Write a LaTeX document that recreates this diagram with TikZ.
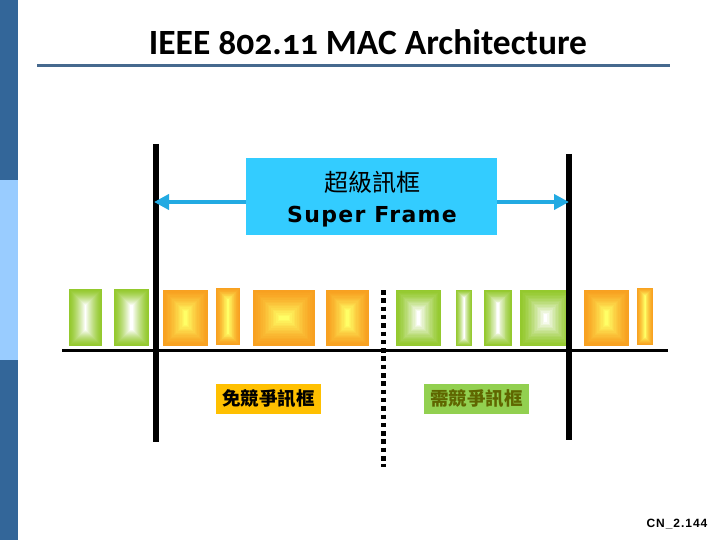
\documentclass[tikz,border=0pt]{standalone}
\usepackage{fontspec}
\usetikzlibrary{arrows.meta}
\setmainfont{Liberation Sans}
\newfontfamily\titlefont[Numbers=OldStyle]{Carlito}
\newfontfamily\cjkfont{Noto Sans CJK TC}
\newfontfamily\verdfont[LetterSpace=6]{DejaVu Sans}
\newfontfamily\cnfont[LetterSpace=8]{Liberation Sans}
\definecolor{bardark}{HTML}{336699}
\definecolor{barlight}{HTML}{99CCFF}
\definecolor{ruleblue}{HTML}{46698E}
\definecolor{sfcyan}{HTML}{33CCFF}
\definecolor{arrowblue}{HTML}{22AAE2}
\definecolor{gedge}{HTML}{94C92E}
\definecolor{gcenter}{HTML}{FFFFFF}
\definecolor{oedge}{HTML}{F8A020}
\definecolor{ocenter}{HTML}{FFFF66}
\definecolor{amber}{HTML}{FFC000}
\definecolor{lgreen}{HTML}{92D050}
\definecolor{olive}{HTML}{5F6600}
\newcommand\shblock[6]{%
  \pgfmathsetmacro\bkw{#3-#1}%
  \pgfmathsetmacro\bkh{#4-#2}%
  \pgfmathsetmacro\bkm{min(\bkw,\bkh)/2}%
  \foreach \bki in {0,...,16}{%
    \pgfmathsetmacro\bkd{\bkm*\bki/17}%
    \pgfmathsetmacro\bkp{100*(\bki/16)^1.4}%
    \fill[#6!\bkp!#5] (#1+\bkd,#2+\bkd) rectangle (#3-\bkd,#4-\bkd);
  }}
\begin{document}
\begin{tikzpicture}[x=1pt,y=-1pt,
  vline/.style={line width=5.5pt,black},
  labelbox/.style={inner sep=0pt,minimum width=105pt,minimum height=30pt,font=\cjkfont\bfseries\fontsize{18.5}{18.5}\selectfont}]
\useasboundingbox (0,0) rectangle (720,540);
% left bar
\fill[bardark] (0,0) rectangle (18,180);
\fill[barlight] (0,180) rectangle (18,360);
\fill[bardark] (0,360) rectangle (18,540);
% title
\node[font=\titlefont\bfseries\fontsize{35.5}{35.5}\selectfont] (title) at (368,42) {IEEE 802.11 MAC Architecture};
\draw[ruleblue,line width=3pt] (37,66) -- (670,66);
% blocks
\shblock{69}{289}{102}{346}{gedge}{gcenter}
\shblock{114}{289}{149}{346}{gedge}{gcenter}
\shblock{396}{290}{441}{346}{gedge}{gcenter}
\shblock{456}{290}{472}{346}{gedge}{gcenter}
\shblock{484}{290}{512}{346}{gedge}{gcenter}
\shblock{520}{290}{571}{346}{gedge}{gcenter}
\shblock{163}{290}{208}{346}{oedge}{ocenter}
\shblock{216}{288}{240}{345}{oedge}{ocenter}
\shblock{253}{290}{315}{346}{oedge}{ocenter}
\shblock{326}{290}{369}{346}{oedge}{ocenter}
\shblock{584}{290}{629}{346}{oedge}{ocenter}
\shblock{637}{288}{653}{345}{oedge}{ocenter}
% time axis
\coordinate (axL) at (62,350.5);
\coordinate (axR) at (668,350.5);
\draw[line width=3.5pt] (axL) -- (axR);
% vertical boundaries
\coordinate (lt) at (156,144);
\coordinate (lb) at (156,442);
\coordinate (rt) at (569,154);
\coordinate (rb) at (569,440);
\draw[vline] (lt) -- (lb);
\draw[vline] (rt) -- (rb);
% dotted separator
\coordinate (dt) at (383,290);
\coordinate (db) at (383,467);
\draw[line width=5pt,dash pattern=on 4.5pt off 3.8pt] (dt) -- (db);
% arrow
\coordinate (al) at (154,202);
\coordinate (ar) at (569,202);
\draw[arrowblue,line width=4.5pt,{Triangle[length=15pt,width=15pt]}-{Triangle[length=15pt,width=15pt]}] (al) -- (ar);
% super frame box
\node[fill=sfcyan,minimum width=251pt,minimum height=77pt,inner sep=0pt] (sf) at (371.5,196.5) {};
\node[font=\cjkfont\fontsize{24}{24}\selectfont] (sfcn) at (372,182) {超級訊框};
\node[font=\verdfont\bfseries\fontsize{22}{22}\selectfont] (sfen) at (372,217) {Super Frame};
% labels
\node[labelbox,fill=amber,text=black] (cf) at (268.5,399) {免競爭訊框};
\node[labelbox,fill=lgreen,text=olive] (cp) at (476.5,399) {需競爭訊框};
% page number
\node[font=\cnfont\bfseries\fontsize{12}{12}\selectfont] (pg) at (677,524) {CN\_2.144};
\end{tikzpicture}
\end{document}
